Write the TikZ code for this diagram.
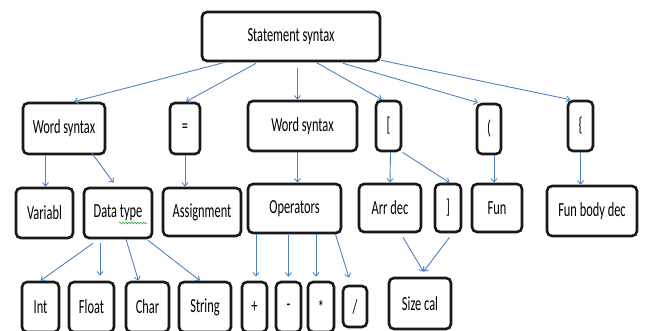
\documentclass[tikz,border=0pt]{standalone}
\usepackage{fontspec}
\setmainfont{Carlito}[FakeStretch=0.62]
\usepackage{tikz}
\usetikzlibrary{arrows.meta, calc, decorations.pathmorphing}
\usepackage{xcolor}
\definecolor{linkblue}{RGB}{79,129,189}
\definecolor{spellgreen}{RGB}{60,170,60}

\begin{document}
\begin{tikzpicture}[
  x=1pt, y=-1pt,
  box/.style={rectangle, draw=black!90, line width=2.6pt, rounded corners=5pt,
              fill=white, inner sep=0pt,
              font=\fontsize{20}{22}\selectfont, align=center},
  link/.style={-{Straight Barb[length=3.5pt, width=6pt]}, line width=0.9pt, draw=linkblue},
  squiggle/.style={draw=spellgreen, line width=0.6pt,
                   decorate, decoration={snake, amplitude=0.9pt, segment length=3pt}}
]

\useasboundingbox (0,0) rectangle (645,331);
\clip (0,0) rectangle (645,331);

% ===== ROOT =====
\node[box, minimum width=178pt, minimum height=49pt] (stmt) at (291,36.5) {Statement syntax};

% ===== FIRST LEVEL =====
\node[box, minimum width=82pt, minimum height=51pt] (ws1) at (64,128.5) {Word syntax};
\node[box, minimum width=30pt, minimum height=51pt] (eq) at (185,128.5) {=};
\node[box, minimum width=109pt, minimum height=50pt] (ws2) at (302.5,126) {Word syntax};
\node[box, minimum width=25pt, minimum height=50pt] (lbrk) at (388.5,126) {[};
\node[box, minimum width=24pt, minimum height=50pt] (lpar) at (489,129) {(};
\node[box, minimum width=25pt, minimum height=50pt] (lbrc) at (580.5,126) {\{};

% ===== SECOND LEVEL =====
\node[box, minimum width=57pt, minimum height=50pt] (var) at (44.5,213) {Variabl};
\node[box, minimum width=68pt, minimum height=50pt] (dtype) at (118,213) {Data type};
\node[box, minimum width=78pt, minimum height=48pt] (assign) at (202,212) {Assignment};
\node[box, minimum width=93pt, minimum height=49pt] (ops) at (294.5,208.5) {Operators};
\node[box, minimum width=62pt, minimum height=48pt] (arr) at (390,208) {Arr dec};
\node[box, minimum width=26pt, minimum height=48pt] (rbrk) at (448,208) {]};
\node[box, minimum width=50pt, minimum height=48pt] (fun) at (497,208) {Fun};
\node[box, minimum width=90pt, minimum height=50pt] (fbody) at (592,211) {Fun body dec};

% ===== THIRD LEVEL =====
\node[box, minimum width=37pt, minimum height=50pt] (int) at (40.5,307) {Int};
\node[box, minimum width=45pt, minimum height=50pt] (float) at (91.5,307) {Float};
\node[box, minimum width=43pt, minimum height=50pt] (char) at (147.5,307) {Char};
\node[box, minimum width=52pt, minimum height=50pt] (string) at (205,307) {String};
\node[box, minimum width=25pt, minimum height=50pt] (plus) at (254.5,307) {+};
\node[box, minimum width=25pt, minimum height=50pt] (minus) at (288.5,307) {-};
\node[box, minimum width=26pt, minimum height=50pt] (star) at (321,307) {*};
\node[box, minimum width=24pt, minimum height=41pt] (slash) at (355,306.5) {/};
\node[box, minimum width=62pt, minimum height=51pt] (size) at (420,303.5) {Size cal};

% spell-check mark under "type"
\draw[squiggle] ($(dtype.center)+(1,10)$) -- ++(28,0);

% ===== ROOT LINKS =====
\draw[link] ($(stmt.south)+(-66,0)$) -- ($(ws1.north)+(10,0)$);
\draw[link] ($(stmt.south)+(-35,1)$) -- ($(eq.north)+(1,0)$);
\draw[link] ($(stmt.south)+(6.5,6)$) -- ($(ws2.north)+(-5,0)$);
\draw[link] ($(stmt.south)+(25,0)$) -- ($(lbrk.north)+(-6.5,0)$);
\draw[link] ($(stmt.south)+(52,1)$) -- ($(lpar.north)+(-11,0)$);
\draw[link] ($(stmt.south)+(90,-2)$) -- ($(lbrc.north)+(-10,0)$);

% ===== FIRST LEVEL LINKS =====
\draw[link] ($(ws1.south)+(-18.5,0)$) -- ($(var.north)+(1,0)$);
\draw[link] ($(ws1.south)+(28,-2)$) -- ($(dtype.north)+(-4.5,-4)$);
\draw[link] (eq.south) -- ($(assign.north)+(-17,0)$);
\draw[link] ($(ws2.south)+(-5,0)$) -- ($(ops.north)+(3,0)$);
\draw[link] ($(lbrk.south)+(2,0)$) -- (arr.north);
\draw[link] ($(lbrk.south)+(14,0)$) -- ($(rbrk.north)+(1.5,0)$);
\draw[link] ($(lpar.south)+(5,0)$) -- ($(fun.north)+(-3,0)$);
\draw[link] (lbrc.south) -- ($(fbody.north)+(-11.5,0)$);

% ===== SECOND LEVEL LINKS =====
\draw[link] ($(dtype.south)+(-25,4)$) -- (int.north);
\draw[link] ($(dtype.south)+(-18,4)$) -- ($(float.north)+(8.5,-5)$);
\draw[link] ($(dtype.south)+(8,0)$) -- ($(char.north)+(-9,0)$);
\draw[link] ($(dtype.south)+(30,1)$) -- ($(string.north)+(-5,0)$);
\draw[link] ($(ops.south)+(-38.5,0)$) -- ($(plus.north)+(1.5,-4)$);
\draw[link] ($(ops.south)+(-6,1)$) -- ($(minus.north)+(0,-4)$);
\draw[link] ($(ops.south)+(21.5,0)$) -- ($(star.north)+(-5,-4)$);
\draw[link] ($(ops.south)+(41,0)$) -- ($(slash.north)+(-6,-7)$);
\draw[link] ($(arr.south)+(13,4)$) -- ($(size.north)+(3.5,-5)$);
\draw[link] ($(rbrk.south)+(1.5,4)$) -- ($(size.north)+(3.5,-5)$);

\end{tikzpicture}
\end{document}
